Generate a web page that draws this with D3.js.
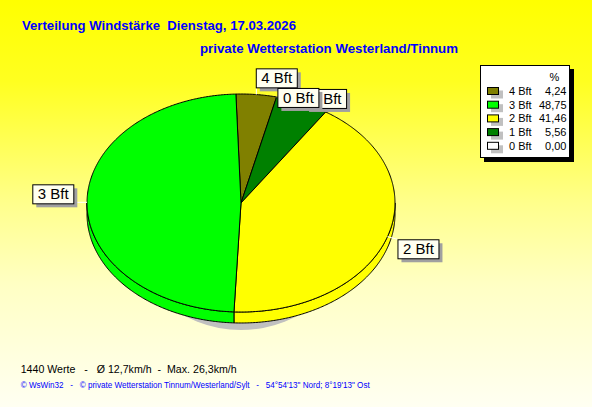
<!DOCTYPE html>
<html><head><meta charset="utf-8">
<script src="https://cdn.jsdelivr.net/npm/d3@7/dist/d3.min.js"></script>
<style>body{margin:0;background:#fff}svg{display:block}</style>
</head><body><svg id="c" width="592" height="407"></svg>
<script>
// ---- data ----
const categories = ["4 Bft", "3 Bft", "2 Bft", "1 Bft", "0 Bft"];
const percents = [4.24, 48.75, 41.46, 5.56, 0.00];
const percentLabels = ["4,24", "48,75", "41,46", "5,56", "0,00"];
const colors = ["#808000", "#00ff00", "#ffff00", "#008000", "#ffffff"];
const pieOrder = ["4 Bft", "0 Bft", "1 Bft", "2 Bft", "3 Bft"];
const titleText = "Verteilung Windstärke  Dienstag, 17.03.2026";
const subtitleText = "private Wetterstation Westerland/Tinnum";
const statsText = "1440 Werte   -   Ø 12,7km/h  -  Max. 26,3km/h";
const creditText = "© WsWin32   -   © private Wetterstation Tinnum/Westerland/Sylt   -   54°54'13\" Nord; 8°19'13\" Ost";

// ---- layout ----
const W = 592, H = 407;
const cx = 241, cy = 203, rx = 154, ry = 109, depth = 11;
const startDeg = -1.9;
const labelLayout = {
  "4 Bft": [-0.6, -26.2],
  "0 Bft": [0.8, -9],
  "1 Bft": [3, -14],
  "2 Bft": [10, 2.6],
  "3 Bft": [-54.7, -18]
};
const labelDrawOrder = ["3 Bft", "2 Bft", "4 Bft", "1 Bft", "0 Bft"];

const svg = d3.select("#c");
const defs = svg.append("defs");
const grad = defs.append("linearGradient").attr("id", "bg")
  .attr("x1", 0).attr("y1", 0).attr("x2", 0).attr("y2", 1);
[[0, "#ffff00"], [0.2, "#ffff20"], [0.5, "#ffff8c"], [0.7, "#ffffc4"], [1, "#fffff2"]]
  .forEach(([o, c]) => grad.append("stop").attr("offset", o).attr("stop-color", c));
svg.append("rect").attr("width", W).attr("height", H).attr("fill", "url(#bg)");

// ---- titles ----
svg.append("text").attr("x", 22).attr("y", 29.5).attr("fill", "#0000ff")
  .attr("font-family", "Liberation Sans, Arial, sans-serif").attr("font-weight", "bold")
  .attr("font-size", 13).style("white-space", "pre")
  .attr("textLength", 274).attr("lengthAdjust", "spacingAndGlyphs").text(titleText);
svg.append("text").attr("x", 200).attr("y", 53.3).attr("fill", "#0000ff")
  .attr("font-family", "Liberation Sans, Arial, sans-serif").attr("font-weight", "bold")
  .attr("font-size", 13)
  .attr("textLength", 258).attr("lengthAdjust", "spacingAndGlyphs").text(subtitleText);

// ---- pie ----
const data = pieOrder.map(c => {
  const i = categories.indexOf(c);
  return { cat: c, value: percents[i], color: colors[i] };
});
const start = startDeg * Math.PI / 180;
const pie = d3.pie().sort(null).value(d => d.value).startAngle(start).endAngle(start + 2 * Math.PI);
const arcs = pie(data);
const px = a => cx + rx * Math.sin(a);
const py = a => cy - ry * Math.cos(a);
const line = d3.line();
function arcPts(a0, a1, dy) {
  const n = Math.max(2, Math.ceil((a1 - a0) / 0.01));
  return d3.range(n + 1).map(k => { const a = a0 + (a1 - a0) * k / n; return [px(a), py(a) + dy]; });
}

// shadow
const shadowRx = 114;
svg.append("ellipse").attr("cx", cx).attr("cy", cy + depth + 7).attr("rx", shadowRx).attr("ry", ry)
  .attr("fill", "#c0c0c0");

const gPie = svg.append("g");
// sides (front half)
arcs.forEach(a => {
  const s = Math.max(a.startAngle, Math.PI / 2), e = Math.min(a.endAngle, 3 * Math.PI / 2);
  if (e - s <= 0) return;
  const top = arcPts(s, e, 0), bot = arcPts(s, e, depth).reverse();
  gPie.append("path").attr("d", line(top.concat(bot)) + "Z")
    .attr("fill", a.data.color).attr("stroke", "#000").attr("stroke-width", 1).attr("stroke-linejoin", "round");
});
// top faces
arcs.forEach(a => {
  if (a.endAngle - a.startAngle <= 0) return;
  const pts = [[cx, cy]].concat(arcPts(a.startAngle, a.endAngle, 0));
  gPie.append("path").attr("d", line(pts) + "Z")
    .attr("fill", a.data.color).attr("stroke", "#000").attr("stroke-width", 1).attr("stroke-linejoin", "round");
});

// ---- labels ----
const gLab = svg.append("g");
const anchors = {};
arcs.forEach(a => { const m = (a.startAngle + a.endAngle) / 2; anchors[a.data.cat] = [px(m), py(m)]; });
const boxH = 19;
// leaders
labelDrawOrder.forEach(c => {
  const [ax, ay] = anchors[c];
  const [dx, dy] = labelLayout[c];
  const bx = ax + dx, by = ay + dy, bw = 42;
  const tx = Math.max(bx, Math.min(ax, bx + bw + 1));
  const ty = Math.max(by, Math.min(ay, by + boxH + 1));
  gLab.append("line").attr("x1", ax).attr("y1", ay).attr("x2", tx).attr("y2", ty)
    .attr("stroke", "#ffffff").attr("stroke-width", 1);
});
labelDrawOrder.forEach(c => {
  const [ax, ay] = anchors[c];
  const [dx, dy] = labelLayout[c];
  const bx = ax + dx, by = ay + dy;
  const g = gLab.append("g");
  const sh = g.append("rect"), bx0 = g.append("rect");
  const t = g.append("text").attr("font-family", "Liberation Sans, Arial, sans-serif")
    .attr("font-size", 15).attr("fill", "#000").attr("text-anchor", "middle").text(c);
  const bw = Math.round(t.node().getComputedTextLength() + 10);
  sh.attr("x", bx + 4).attr("y", by + 4).attr("width", bw).attr("height", boxH).attr("fill", "#a0a0a0");
  bx0.attr("x", bx + 0.5).attr("y", by + 0.5).attr("width", bw).attr("height", boxH)
    .attr("fill", "#fffff0").attr("stroke", "#000").attr("stroke-width", 1);
  t.attr("x", bx + 0.5 + bw / 2).attr("y", by + 15);
});

// ---- legend ----
const lg = svg.append("g").attr("font-family", "Liberation Sans, Arial, sans-serif").attr("font-size", 11);
lg.append("rect").attr("x", 484).attr("y", 69).attr("width", 90).attr("height", 93).attr("fill", "#000");
lg.append("rect").attr("x", 480.5).attr("y", 65.5).attr("width", 89).attr("height", 92)
  .attr("fill", "#ffffff").attr("stroke", "#000");
lg.append("text").attr("x", 549.5).attr("y", 80.5).attr("fill", "#000").text("%");
categories.forEach((c, i) => {
  const yc = 91 + i * 13.7;
  lg.append("rect").attr("x", 491).attr("y", yc - 0.5).attr("width", 12).attr("height", 8).attr("fill", "#c0c0c0");
  lg.append("rect").attr("x", 487.5).attr("y", yc - 3.5).attr("width", 11).attr("height", 7)
    .attr("fill", colors[i]).attr("stroke", "#000");
  lg.append("text").attr("x", 509).attr("y", yc + 4).attr("fill", "#000").text(c);
  lg.append("text").attr("x", 566.5).attr("y", yc + 4).attr("fill", "#000").attr("text-anchor", "end").text(percentLabels[i]);
});

// ---- footer ----
svg.append("text").attr("x", 20.7).attr("y", 372.5).attr("fill", "#000")
  .attr("font-family", "Liberation Sans, Arial, sans-serif").attr("font-size", 11.5).style("white-space", "pre")
  .attr("textLength", 216).attr("lengthAdjust", "spacingAndGlyphs").text(statsText);
svg.append("text").attr("x", 20.7).attr("y", 387.5).attr("fill", "#0000ff")
  .attr("font-family", "Liberation Sans, Arial, sans-serif").attr("font-size", 8.5).style("white-space", "pre")
  .attr("textLength", 349).attr("lengthAdjust", "spacingAndGlyphs").text(creditText);
</script></body></html>
